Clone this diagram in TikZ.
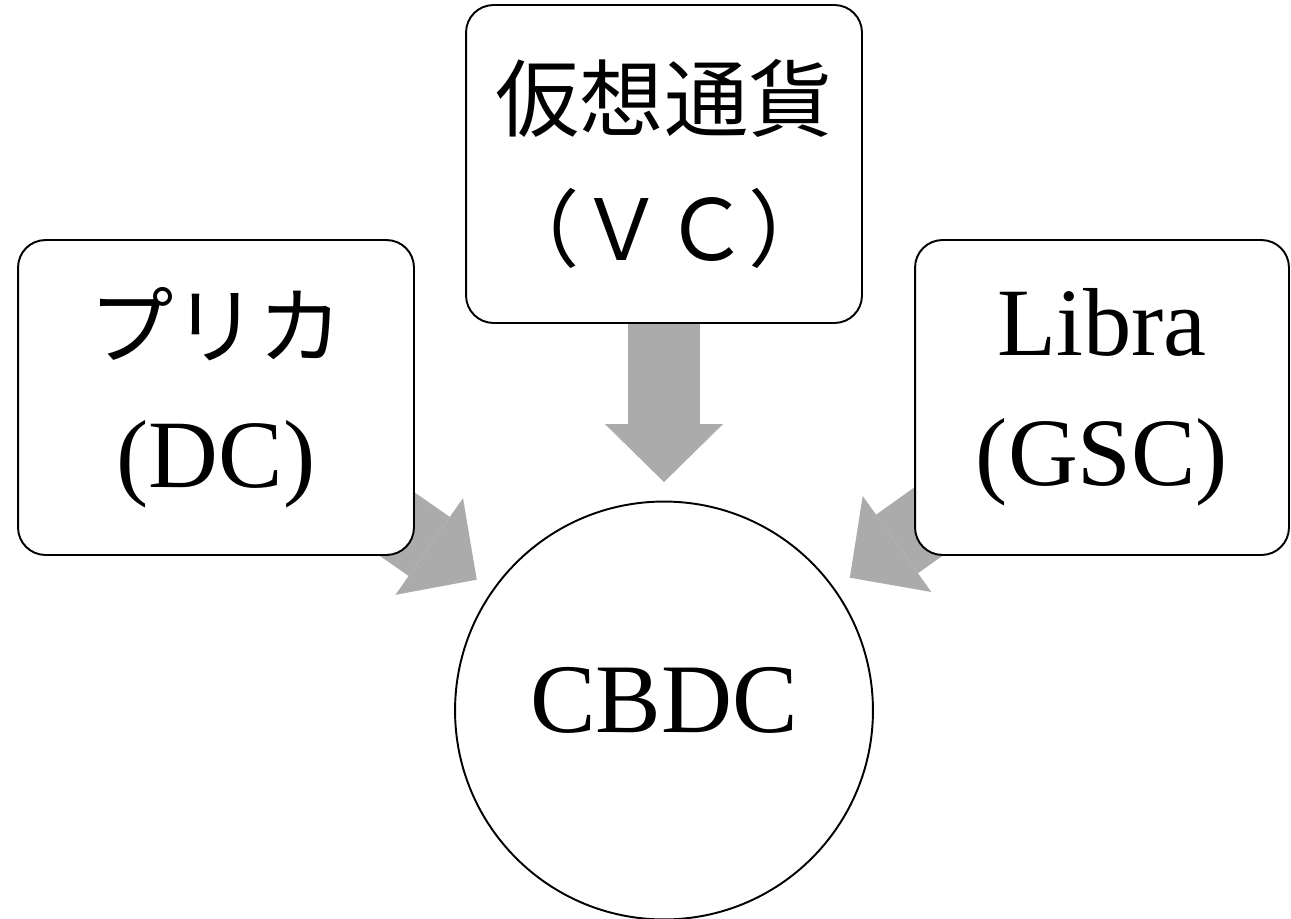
\documentclass[tikz,border=0pt]{standalone}
\usepackage{fontspec}
\setmainfont{Liberation Serif}
\newfontfamily\jpfont{Noto Sans CJK JP}
\usepackage{tikz}
\usetikzlibrary{shapes,arrows.meta,positioning,backgrounds}
\usepackage{xcolor}
\definecolor{arrowgray}{HTML}{ABABAB}
\newcommand{\jptext}[1]{{\jpfont\fontsize{48}{74}\selectfont #1}}

\begin{document}
\begin{tikzpicture}[x=0.02cm, y=-0.02cm]

  % Define styles for boxes and arrows
  \tikzstyle{source} = [rectangle, draw, line width=1.1pt, rounded corners=0.55cm, fill=white, align=center, inner sep=0pt, minimum height=6.3cm, font=\fontsize{55}{74}\selectfont]
  \tikzstyle{target} = [circle, draw, line width=1.1pt, fill=white, inner sep=0pt, minimum size=8.36cm, text depth=12pt, font=\fontsize{56}{70}\selectfont]
  \tikzstyle{feed} = [line width=1.44cm, draw=arrowgray, shorten >=0.37cm, -{Triangle[length=1.16cm 0 0, width=2.36cm 0 0, line width=0pt, fill=arrowgray]}]

  \useasboundingbox (0,0) rectangle (1291,919);

  % Sources
  \node[source, minimum width=7.92cm] (prika) at (216,397.5) {\jptext{プリカ}\\(DC)};
  \node[source, minimum width=7.92cm, minimum height=6.36cm] (vc) at (664,164) {\jptext{仮想通貨}\\\jptext{（ＶＣ）}};
  \node[source, minimum width=7.48cm] (libra) at (1102,397.5) {Libra\\(GSC)};

  % Target
  \node[target] (cbdc) at (664,710.5) {CBDC};

  % Arrows
  \begin{scope}[on background layer]
    \draw[feed] (prika.center) -- (cbdc);
    \draw[feed] (vc.center) -- (cbdc);
    \draw[feed] (libra.center) -- (cbdc);
  \end{scope}

\end{tikzpicture}
\end{document}
